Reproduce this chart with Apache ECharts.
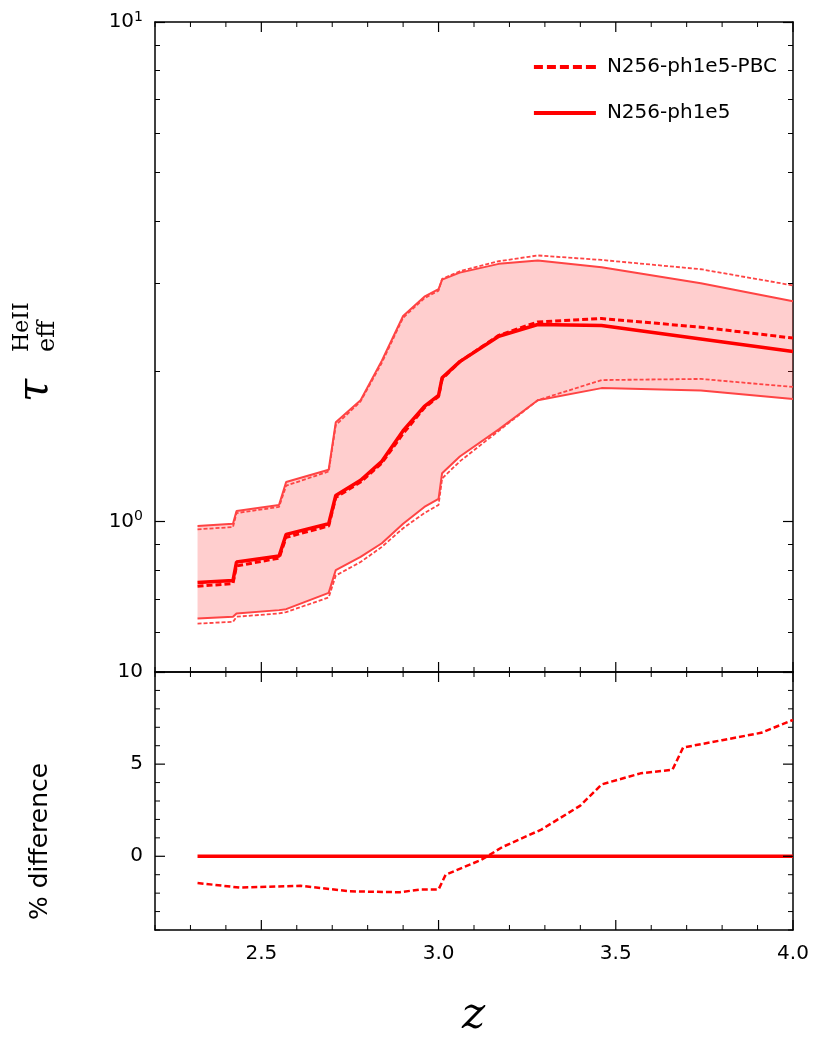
<!DOCTYPE html>
<html><head><meta charset="utf-8">
<script src="https://cdn.jsdelivr.net/npm/echarts@6/dist/echarts.min.js"></script>
<style>html,body{margin:0;background:#fff}#c{width:830px;height:1063px}</style>
</head><body><div id="c"></div>
<script>
// redshift grid shared by the curves
var zs = [2.32, 2.42, 2.43, 2.55, 2.57, 2.69, 2.71, 2.78, 2.84, 2.90, 2.96, 3.00, 3.01, 3.06, 3.17, 3.28, 3.46, 3.74, 4.00];
// tau_eff, median and 16/84 band
var medSolid = [0.755, 0.762, 0.830, 0.853, 0.943, 0.990, 1.128, 1.21, 1.32, 1.52, 1.70, 1.79, 1.94, 2.09, 2.35, 2.48, 2.47, 2.32, 2.19];
var medDash  = [0.742, 0.752, 0.815, 0.845, 0.930, 0.980, 1.118, 1.20, 1.31, 1.50, 1.69, 1.78, 1.93, 2.09, 2.36, 2.51, 2.55, 2.45, 2.33];
var upSolid  = [0.98, 0.99, 1.05, 1.08, 1.20, 1.27, 1.58, 1.75, 2.10, 2.58, 2.82, 2.92, 3.05, 3.15, 3.28, 3.33, 3.23, 3.00, 2.76];
var upDash   = [0.965, 0.975, 1.04, 1.07, 1.18, 1.26, 1.56, 1.74, 2.08, 2.56, 2.80, 2.90, 3.06, 3.17, 3.32, 3.41, 3.34, 3.20, 2.97];
var loSolid  = [0.640, 0.645, 0.655, 0.665, 0.668, 0.720, 0.80, 0.85, 0.905, 0.99, 1.07, 1.11, 1.25, 1.35, 1.53, 1.75, 1.85, 1.83, 1.76];
var loDash   = [0.625, 0.630, 0.645, 0.655, 0.659, 0.705, 0.78, 0.83, 0.89, 0.97, 1.04, 1.08, 1.22, 1.32, 1.52, 1.75, 1.92, 1.93, 1.86];
// % difference
var dz   = [2.32, 2.44, 2.61, 2.75, 2.89, 2.95, 3.00, 3.02, 3.12, 3.18, 3.29, 3.40, 3.46, 3.57, 3.66, 3.69, 3.80, 3.91, 4.00];
var diff = [-1.45, -1.7, -1.6, -1.9, -1.95, -1.8, -1.8, -1.0, -0.2, 0.5, 1.45, 2.75, 3.9, 4.5, 4.7, 5.9, 6.3, 6.7, 7.4];
// ticks
var zTicks = [2.5, 3.0, 3.5, 4.0];
var zMinor = [2.2, 2.3, 2.4, 2.6, 2.7, 2.8, 2.9, 3.1, 3.2, 3.3, 3.4, 3.6, 3.7, 3.8, 3.9];
var dTicks = [0, 5, 10];
var dMinor = [-4, -3, -2, -1, 1, 2, 3, 4, 6, 7, 8, 9];

function pairs(x, y) { return x.map(function (v, i) { return [v, y[i]]; }); }
var red = '#ff0000';
var font = 'DejaVu Sans';

var chart = echarts.init(document.getElementById('c'));
function ax(o) {
  var a = {
    axisLine: { show: true, onZero: false, lineStyle: { color: '#000', width: 1.5 } },
    axisTick: { show: false },
    minorTick: { show: false },
    splitLine: { show: false },
    axisLabel: { show: false }
  };
  return Object.assign(a, o);
}
var lbl = { show: true, color: '#000', fontFamily: font, fontSize: 20 };
function sup(v) {
  return Math.abs(v - 1) < 1e-6 ? '{b|10}{s|0}' : (Math.abs(v - 10) < 1e-6 ? '{b|10}{s|1}' : '');
}
var rich = { b: { fontSize: 20, fontFamily: font, color: '#000' }, s: { fontSize: 14, fontFamily: font, color: '#000', verticalAlign: 'top', padding: [0, 0, 10, 0] } };
var zr = { type: 'value', min: 2.2, max: 4.0 };
var dr = { type: 'value', min: -4, max: 10 };
var logTick = { show: true, inside: true, length: 10, lineStyle: { color: '#000', width: 1.2 } };
var logMinor = { show: true, splitNumber: 9, length: 5, lineStyle: { color: '#000' } };

// inward ticks on both opposite edges of a panel; dim 'x' or 'y'
function ticks(xi, yi, dim, vals, len, refVal) {
  return { type: 'custom', xAxisIndex: xi, yAxisIndex: yi, silent: true, z: 5, data: vals.map(function (v) { return [v]; }),
    renderItem: function (params, api) {
      var cs = params.coordSys, v = api.value(0), s = { stroke: '#000', lineWidth: len > 6 ? 1.2 : 1 };
      if (dim === 'x') {
        var x = api.coord([v, refVal])[0], t = cs.y, b = cs.y + cs.height;
        return { type: 'group', children: [
          { type: 'line', shape: { x1: x, y1: b, x2: x, y2: b - len }, style: s },
          { type: 'line', shape: { x1: x, y1: t, x2: x, y2: t + len }, style: s } ] };
      }
      var y = api.coord([3, v])[1], l = cs.x, r = cs.x + cs.width;
      return { type: 'group', children: [
        { type: 'line', shape: { x1: l, y1: y, x2: l + len, y2: y }, style: s },
        { type: 'line', shape: { x1: r, y1: y, x2: r - len, y2: y }, style: s } ] };
    } };
}

chart.setOption({
  animation: false,
  grid: [
    { left: 155, right: 37, top: 22, height: 650 },
    { left: 155, right: 37, top: 672, height: 258 }
  ],
  xAxis: [
    ax(Object.assign({ gridIndex: 0 }, zr)),
    ax(Object.assign({ gridIndex: 0, position: 'top' }, zr)),
    ax(Object.assign({ gridIndex: 1,
      axisLabel: Object.assign({ customValues: zTicks, margin: 14, formatter: function (v) { return v.toFixed(1); } }, lbl) }, zr)),
    ax(Object.assign({ gridIndex: 1, position: 'top' }, zr))
  ],
  yAxis: [
    ax({ gridIndex: 0, type: 'log', logBase: 10, min: 0.5, max: 10, axisTick: logTick, minorTick: logMinor,
      axisLabel: Object.assign({ formatter: sup, rich: rich, margin: 12 }, lbl) }),
    ax({ gridIndex: 0, type: 'log', position: 'right', logBase: 10, min: 0.5, max: 10, axisTick: logTick, minorTick: logMinor }),
    ax(Object.assign({ gridIndex: 1, axisLabel: Object.assign({ customValues: dTicks, margin: 12 }, lbl) }, dr)),
    ax(Object.assign({ gridIndex: 1, position: 'right' }, dr))
  ],
  legend: {
    top: 52, right: 48, orient: 'vertical', itemWidth: 62, itemHeight: 4, itemGap: 26,
    textStyle: { fontFamily: font, fontSize: 20, color: '#000', padding: [0, 0, 0, 6] },
    data: [
      { name: 'N256-ph1e5-PBC', icon: 'path://M0,0h9v4h-9zM13,0h9v4h-9zM26,0h9v4h-9zM39,0h9v4h-9zM52,0h10v4h-10z', itemStyle: { color: red } },
      { name: 'N256-ph1e5', icon: 'path://M0,0h62v4h-62z', itemStyle: { color: red } }
    ]
  },
  series: [
    { type: 'custom', xAxisIndex: 0, yAxisIndex: 0, silent: true, z: 1,
      data: [0],
      renderItem: function (params, api) {
        var pts = [];
        for (var i = 0; i < zs.length; i++) pts.push(api.coord([zs[i], upSolid[i]]));
        for (var j = zs.length - 1; j >= 0; j--) pts.push(api.coord([zs[j], loSolid[j]]));
        return { type: 'polygon', shape: { points: pts }, style: { fill: 'rgba(255,60,60,0.25)', stroke: 'none' } };
      } },
    ticks(0, 0, 'x', zTicks, 10, 1),
    ticks(0, 0, 'x', zMinor, 5, 1),
    ticks(2, 2, 'x', zTicks, 10, 0),
    ticks(2, 2, 'x', zMinor, 5, 0),
    ticks(2, 2, 'y', dTicks, 10),
    ticks(2, 2, 'y', dMinor, 5),
    { name: 'N256-ph1e5-PBC', type: 'line', xAxisIndex: 0, yAxisIndex: 0, data: pairs(zs, medDash), symbol: 'none', lineStyle: { color: red, width: 3, type: [6, 3] }, z: 4 },
    { name: 'N256-ph1e5', type: 'line', xAxisIndex: 0, yAxisIndex: 0, data: pairs(zs, medSolid), symbol: 'none', lineStyle: { color: red, width: 3.5 }, z: 4 },
    { type: 'line', xAxisIndex: 0, yAxisIndex: 0, data: pairs(zs, upSolid), symbol: 'none', lineStyle: { color: '#ff4444', width: 2 }, z: 3 },
    { type: 'line', xAxisIndex: 0, yAxisIndex: 0, data: pairs(zs, loSolid), symbol: 'none', lineStyle: { color: '#ff4444', width: 2 }, z: 3 },
    { type: 'line', xAxisIndex: 0, yAxisIndex: 0, data: pairs(zs, upDash), symbol: 'none', lineStyle: { color: '#ff4444', width: 1.8, type: [4, 2] }, z: 3 },
    { type: 'line', xAxisIndex: 0, yAxisIndex: 0, data: pairs(zs, loDash), symbol: 'none', lineStyle: { color: '#ff4444', width: 1.8, type: [4, 2] }, z: 3 },
    { type: 'line', xAxisIndex: 2, yAxisIndex: 2, data: pairs(dz, diff), symbol: 'none', lineStyle: { color: red, width: 2.5, type: [6, 3] } },
    { type: 'line', xAxisIndex: 2, yAxisIndex: 2, data: [[2.32, 0], [4.0, 0]], symbol: 'none', lineStyle: { color: red, width: 3.5 } }
  ],
  graphic: [
    { type: 'text', x: 36, y: 402, rotation: Math.PI / 2, style: { text: 'τ', fontSize: 42, fontFamily: 'DejaVu Serif', fontStyle: 'italic', fill: '#000', align: 'left', verticalAlign: 'middle' } },
    { type: 'text', x: 48, y: 352, rotation: Math.PI / 2, style: { text: 'eff', fontSize: 24, fontFamily: 'DejaVu Serif', fill: '#000', align: 'left', verticalAlign: 'middle' } },
    { type: 'text', x: 22, y: 352, rotation: Math.PI / 2, style: { text: 'HeII', fontSize: 22, fontFamily: 'DejaVu Serif', fill: '#000', align: 'left', verticalAlign: 'middle' } },
    { type: 'text', x: 28, y: 920, rotation: Math.PI / 2, style: { text: '% difference', fontSize: 25, fontFamily: font, fill: '#000' } },
    { type: 'text', x: 462, y: 995, style: { text: 'z', fontSize: 44, fontFamily: 'DejaVu Serif', fontStyle: 'italic', fill: '#000' } }
  ]
});
</script></body></html>
